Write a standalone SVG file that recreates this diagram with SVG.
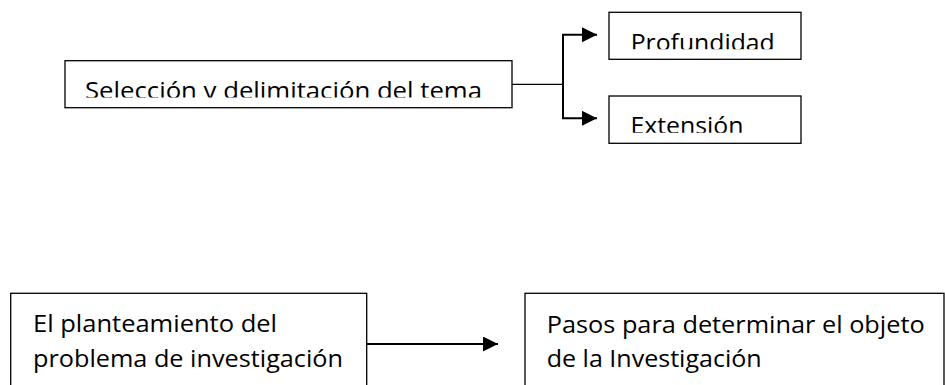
<svg xmlns="http://www.w3.org/2000/svg" width="945" height="385" viewBox="0 0 945 385">
  <style>
    .box { fill: #ffffff; stroke: #000000; stroke-width: 1.3; }
    .lbl { font-family: "Open Sans", "Liberation Sans", sans-serif; font-size: 24px; fill: #000000; }
    .thin { stroke: #000000; stroke-width: 1.2; fill: none; }
    .thick { stroke: #000000; stroke-width: 2; fill: none; }
  </style>
  <defs>
    <marker id="arr" markerUnits="userSpaceOnUse" markerWidth="16" markerHeight="16" refX="15" refY="7.5" orient="auto">
      <path d="M0,0 L15,7.5 L0,15 Z" fill="#000000"/>
    </marker>
    <clipPath id="clipTema"><rect x="66" y="61" width="445" height="36.5"/></clipPath>
    <clipPath id="clipProf"><rect x="610" y="13" width="190" height="36.3"/></clipPath>
    <clipPath id="clipExt"><rect x="610" y="96" width="190" height="36.7"/></clipPath>
  </defs>

  <g id="connectors">
    <line class="thin" x1="512" y1="84.3" x2="563" y2="84.3"/>
    <line class="thick" x1="563" y1="34.7" x2="563" y2="118.3"/>
    <line class="thick" x1="562" y1="34.7" x2="597" y2="34.7" marker-end="url(#arr)"/>
    <line class="thick" x1="562" y1="118.3" x2="597" y2="118.3" marker-end="url(#arr)"/>
    <line class="thick" x1="367" y1="344" x2="498" y2="344" marker-end="url(#arr)"/>
  </g>

  <g id="node-tema">
    <rect class="box" x="65" y="60.7" width="447" height="47"/>
    <text class="lbl" x="85" y="98.5" textLength="397" lengthAdjust="spacingAndGlyphs" clip-path="url(#clipTema)">Selección y delimitación del tema</text>
  </g>

  <g id="node-profundidad">
    <rect class="box" x="609" y="12.3" width="192" height="47"/>
    <text class="lbl" x="630.7" y="50.5" textLength="144" lengthAdjust="spacingAndGlyphs" clip-path="url(#clipProf)">Profundidad</text>
  </g>

  <g id="node-extension">
    <rect class="box" x="609" y="96" width="192" height="47.3"/>
    <text class="lbl" x="630.5" y="133.5" textLength="113" lengthAdjust="spacingAndGlyphs" clip-path="url(#clipExt)">Extensión</text>
  </g>

  <g id="node-planteamiento">
    <rect class="box" x="10.7" y="293.3" width="356" height="110"/>
    <text class="lbl" x="33" y="332" textLength="244" lengthAdjust="spacingAndGlyphs">El planteamiento del</text>
    <text class="lbl" x="33" y="366.5" textLength="310" lengthAdjust="spacingAndGlyphs">problema de investigación</text>
  </g>

  <g id="node-pasos">
    <rect class="box" x="525" y="293.3" width="419" height="110"/>
    <text class="lbl" x="546.7" y="332.5" textLength="378" lengthAdjust="spacingAndGlyphs">Pasos para determinar el objeto</text>
    <text class="lbl" x="546.7" y="366.7" textLength="215" lengthAdjust="spacingAndGlyphs">de la Investigación</text>
  </g>
</svg>
